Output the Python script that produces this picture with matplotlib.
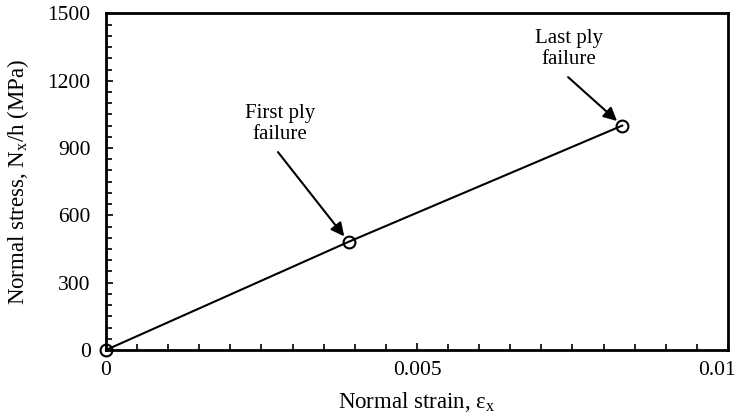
import matplotlib
matplotlib.use("Agg")
import matplotlib.pyplot as plt
from matplotlib.ticker import MultipleLocator
from matplotlib.transforms import ScaledTranslation

plt.rcParams['font.family'] = ['Liberation Serif', 'DejaVu Serif']
plt.rcParams['mathtext.fontset'] = 'custom'
plt.rcParams['mathtext.rm'] = 'Liberation Serif'

# Stress-strain response of the laminate
strain = [0.0, 0.0039, 0.0083]
stress = [0.0, 482.0, 1000.0]

x_ticks = [0, 0.005, 0.01]
x_tick_labels = ["0", "0.005", "0.01"]
y_ticks = [0, 300, 600, 900, 1200, 1500]

fig = plt.figure(figsize=(7.38, 4.19), dpi=100)
ax = fig.add_axes([0.1436, 0.1647, 0.9864 - 0.1436, 0.968 - 0.1647])

ax.plot(strain, stress, color='black', lw=1.5, marker='o', markersize=8.5,
        markerfacecolor='none', markeredgecolor='black', markeredgewidth=1.5,
        clip_on=False, zorder=3)

ax.set_xlim(0, 0.01)
ax.set_ylim(0, 1500)
ax.set_xticks(x_ticks)
ax.set_xticklabels(x_tick_labels)
ax.set_yticks(y_ticks)
ax.xaxis.set_minor_locator(MultipleLocator(0.0005))
ax.yaxis.set_minor_locator(MultipleLocator(50))
ax.tick_params(which='both', direction='in', top=False, right=False,
               labelsize=15.5, width=1.2)
ax.tick_params(which='major', length=5)
ax.tick_params(which='minor', length=4)
ax.tick_params(axis='x', which='major', pad=8)
ax.tick_params(axis='y', which='major', pad=11)
for s in ax.spines.values():
    s.set_linewidth(2.0)

# keep the last strain label inside the figure
last = ax.get_xticklabels()[-1]
last.set_transform(last.get_transform() + ScaledTranslation(-11 / 100, 0, fig.dpi_scale_trans))

ax.set_xlabel("Normal strain, ε$_\\mathregular{x}$", fontsize=16.5, labelpad=7)
ax.set_ylabel("Normal stress, N$_\\mathregular{x}$/h (MPa)", fontsize=16.5, labelpad=12)

# failure labels with arrows pointing at the marked points
arrow = dict(arrowstyle='-|>', color='black', lw=1.5, mutation_scale=20,
             shrinkA=0, shrinkB=5)
ax.text(0.0028, 1007, "First ply\nfailure", ha='center', va='center',
        fontsize=15, linespacing=1.15)
ax.annotate("", xy=(strain[1], stress[1]), xytext=(0.002765, 882),
            arrowprops=arrow)
ax.text(0.00744, 1343, "Last ply\nfailure", ha='center', va='center',
        fontsize=15, linespacing=1.15)
ax.annotate("", xy=(strain[2], stress[2]), xytext=(0.00743, 1216),
            arrowprops=arrow)

fig.savefig("out.png", dpi=100)
